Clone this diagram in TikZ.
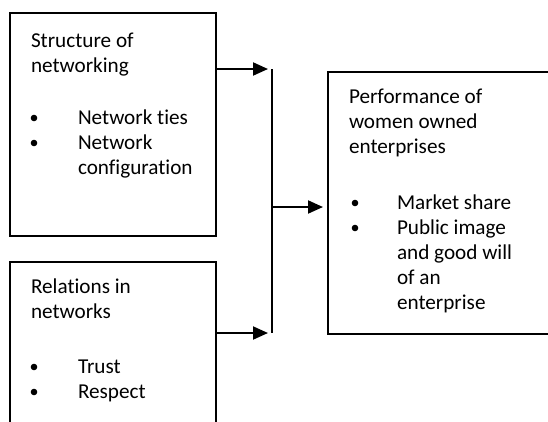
\documentclass[tikz,border=0pt]{standalone}
\usepackage{fontspec}
\setmainfont{Carlito}[Ligatures={NoCommon}]
\usetikzlibrary{arrows.meta}
\tikzset{
  box/.style={draw, line width=1.8pt, rectangle, anchor=north west, inner sep=0pt, outer sep=0pt},
  txt/.style={anchor=base west, inner sep=0pt, outer sep=0pt, font=\fontsize{21.2}{25.5}\selectfont},
  conn/.style={line width=2pt, -{Triangle[length=15pt,width=13pt]}},
  bar/.style={line width=1.5pt},
}
\newcommand{\bul}[2]{\fill (#1,#2) circle (3.3);}
\begin{document}
\begin{tikzpicture}[x=1pt,y=-1pt]
\useasboundingbox (0,0) rectangle (548,421);
\clip (0,0) rectangle (548,421);
% boxes
\node[box, minimum width=206pt, minimum height=223pt] (b1) at (10,13) {};
\node[box, minimum width=206pt, minimum height=175pt] (b2) at (10,262) {};
\node[box, minimum width=226pt, minimum height=262pt] (b3) at (328,72) {};
% texts box 1
\node[txt] (t11) at (31,47) {Structure of};
\node[txt] (t12) at (31,72) {networking};
\bul{34}{118}\bul{34}{143}
\node[txt] (t13) at (78,124) {Network ties};
\node[txt] (t14) at (78,149) {Network};
\node[txt] (t15) at (78,174) {configuration};
% texts box 2
\node[txt] (t21) at (31,293) {Relations in};
\node[txt] (t22) at (31,318) {networks};
\bul{34}{367}\bul{34}{392}
\node[txt] (t23) at (78,373) {Trust};
\node[txt] (t24) at (78,398) {Respect};
% texts box 3
\node[txt] (t31) at (349,103) {Performance of};
\node[txt] (t32) at (349,128) {women owned};
\node[txt] (t33) at (349,153) {enterprises};
\bul{355}{203}\bul{355}{228}
\node[txt] (t34) at (397,209) {Market share};
\node[txt] (t35) at (397,234) {Public image};
\node[txt] (t36) at (397,259) {and good will};
\node[txt] (t37) at (397,284) {of an};
\node[txt] (t38) at (397,309) {enterprise};
% connectors
\coordinate (vtop) at (272,69);
\coordinate (vbot) at (272,333);
\coordinate (vmid) at (272,207);
\coordinate (tip1) at (268,69);
\coordinate (tip3) at (268,333);
\draw[bar] (vtop) -- (vbot);
\draw[conn] (b1.east |- tip1) -- (tip1);
\draw[conn] (b2.east |- tip3) -- (tip3);
\draw[conn, shorten >=5pt] (vmid) -- (b3.west |- vmid);
\end{tikzpicture}
\end{document}
